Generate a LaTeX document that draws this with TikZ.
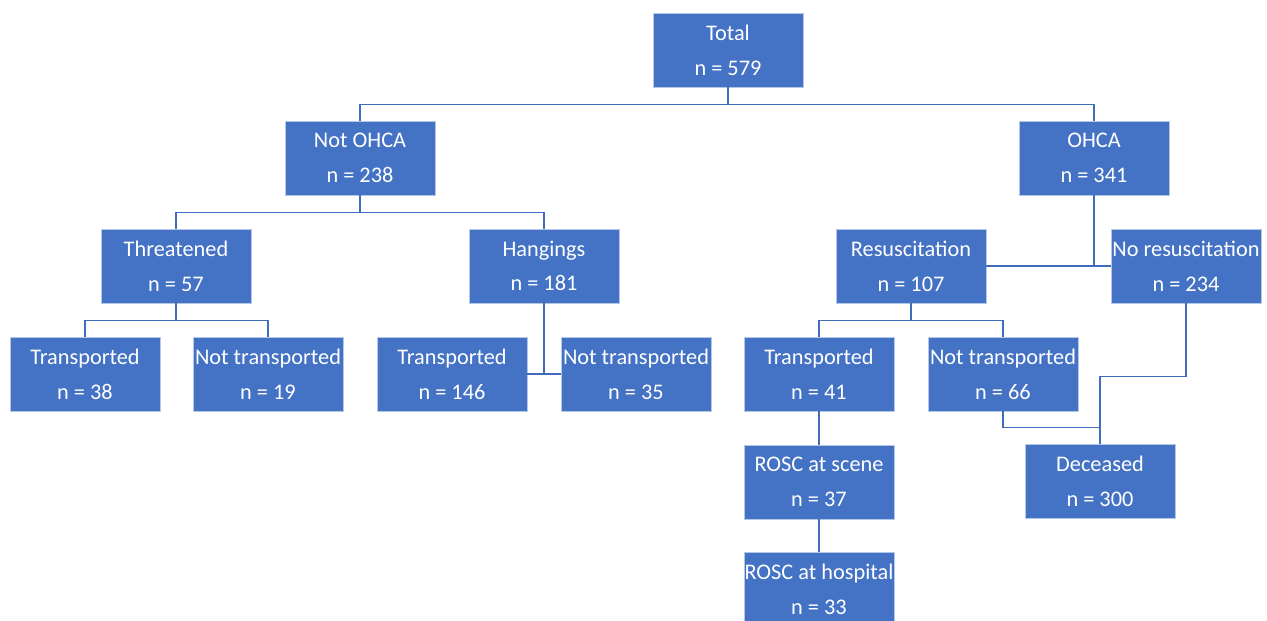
\documentclass[tikz,border=0pt]{standalone}
\usepackage{fontspec}
\setmainfont{Carlito}
\definecolor{boxblue}{HTML}{4472C4}
\definecolor{boxedge}{HTML}{B4C7E7}
\definecolor{linkblue}{HTML}{3F6CBB}
\begin{document}
\begin{tikzpicture}[
    flowbox/.style={rectangle, fill=boxblue, draw=boxedge, line width=0.4pt, text=white,
        minimum width=3cm, minimum height=1.48cm, inner sep=0pt, align=center,
        font=\fontsize{12.7}{19.8}\selectfont},
    link/.style={draw=linkblue, line width=0.8pt}]
        \useasboundingbox (0,0) rectangle (25.34,-12.42);
        \begin{scope}
            % top level
            \node (total) at (14.56,-1.0) [flowbox]{Total\\ n = 579};
            \node (notohca) at (7.2,-3.16) [flowbox]{Not OHCA\\ n = 238};
            \node (ohca) at (21.88,-3.16) [flowbox]{OHCA\\ n = 341};

            % second level
            \node (threat) at (3.52,-5.32) [flowbox]{Threatened\\ n = 57};
            \node (hang) at (10.88,-5.32) [flowbox]{Hangings\\ n = 181};
            \node (resus) at (18.22,-5.32) [flowbox]{Resuscitation\\ n = 107};
            \node (nores) at (23.72,-5.32) [flowbox]{No resuscitation\\ n = 234};

            % third level
            \node (trthreat) at (1.7,-7.48) [flowbox]{Transported\\ n = 38};
            \node (ntrthreat) at (5.36,-7.48) [flowbox]{Not transported\\ n = 19};
            \node (trhang) at (9.04,-7.48) [flowbox]{Transported\\ n = 146};
            \node (ntrhang) at (12.72,-7.48) [flowbox]{Not transported\\ n = 35};
            \node (trresus) at (16.38,-7.48) [flowbox]{Transported\\ n = 41};
            \node (ntrresus) at (20.06,-7.48) [flowbox]{Not transported\\ n = 66};

            % outcome
            \node (roscscene) at (16.38,-9.64) [flowbox]{ROSC at scene\\ n = 37};
            \node (roschosp) at (16.38,-11.78) [flowbox]{ROSC at hospital\\ n = 33};
            \node (deceased) at (22.0,-9.62) [flowbox]{Deceased\\ n = 300};

            % connectors
            \draw[link] (total.south) -- ++(0,-0.34) -| (notohca.north);
            \draw[link] (total.south) -- ++(0,-0.34) -| (ohca.north);
            \draw[link] (notohca.south) -- ++(0,-0.34) -| (threat.north);
            \draw[link] (notohca.south) -- ++(0,-0.34) -| (hang.north);
            \draw[link] (threat.south) -- ++(0,-0.34) -| (trthreat.north);
            \draw[link] (threat.south) -- ++(0,-0.34) -| (ntrthreat.north);
            \draw[link] (hang.south) -- (hang.south |- trhang.east);
            \draw[link] (trhang.east) -- (ntrhang.west);
            \draw[link] (ohca.south) -- (ohca.south |- resus.east);
            \draw[link] (resus.east) -- (nores.west);
            \draw[link] (resus.south) -- ++(0,-0.34) -| (trresus.north);
            \draw[link] (resus.south) -- ++(0,-0.34) -| (ntrresus.north);
            \draw[link] (trresus.south) -- (roscscene.north);
            \draw[link] (roscscene.south) -- (roschosp.north);
            \draw[link] (ntrresus.south) -- ++(0,-0.32) -| (deceased.north);
            \draw[link] (nores.south) -- ++(0,-1.46) -| (deceased.north);
        \end{scope}
\end{tikzpicture}
\end{document}
